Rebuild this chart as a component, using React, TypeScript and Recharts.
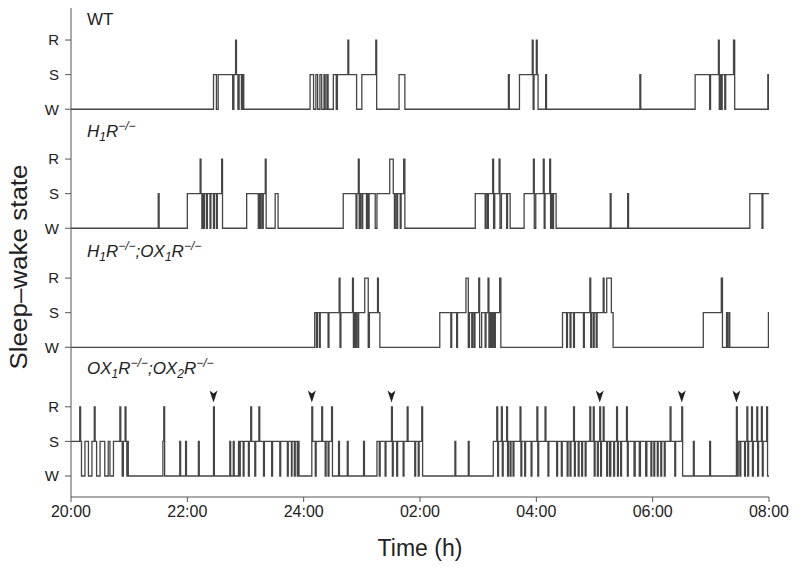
import React from "react";
import { ComposedChart, Line, Scatter, XAxis, YAxis } from "recharts";

const W = 0;
const S = 1;
const R = 2;

// hypnogram transitions: [hours after 20:00, state]
const wtEpochs: [number, number][] = [
  [0, W], [2.45, S], [2.5, W], [2.53, S], [2.78, W], [2.8, S], [2.83, R], [2.845, S],
  [2.87, W], [2.89, S], [2.93, W], [2.95, S], [2.97, W],
  [4.11, S], [4.17, W], [4.21, S], [4.24, W], [4.28, S], [4.31, W], [4.35, S], [4.37, W],
  [4.4, S], [4.42, W], [4.51, S], [4.56, W],
  [4.58, S], [4.76, R], [4.775, S], [4.91, W], [5.0, S], [5.24, R], [5.255, W],
  [5.64, S], [5.74, W],
  [7.52, S], [7.535, W], [7.71, S], [7.93, R], [7.945, W], [7.96, S], [8.0, R], [8.015, S],
  [8.03, W], [8.16, S], [8.175, W], [9.78, S], [9.795, W],
  [10.73, S], [10.98, W], [10.995, S], [11.13, R], [11.145, W], [11.16, S], [11.18, W],
  [11.195, S], [11.24, W], [11.255, S], [11.39, R], [11.41, W], [11.98, S], [11.995, W],
];

const h1Epochs: [number, number][] = [
  [0, W], [1.5, S], [1.515, W],
  [2.0, S], [2.22, R], [2.235, S], [2.25, W], [2.265, S], [2.28, W], [2.295, S], [2.33, W],
  [2.345, S], [2.39, W], [2.405, S], [2.45, W], [2.465, S], [2.5, W], [2.515, S], [2.59, R],
  [2.605, W],
  [3.02, S], [3.22, W], [3.235, S], [3.25, W], [3.265, S], [3.29, W], [3.305, S], [3.34, R],
  [3.355, W], [3.51, S], [3.56, W],
  [4.68, S], [4.9, W], [4.915, S], [4.94, R], [4.955, W], [4.975, S], [5.0, W], [5.015, S],
  [5.08, W], [5.095, S], [5.11, W], [5.125, S], [5.23, W], [5.26, S], [5.48, R], [5.54, S],
  [5.56, W], [5.575, S], [5.6, W], [5.615, S], [5.66, W], [5.675, S], [5.72, R], [5.74, W],
  [6.95, S], [7.12, W], [7.135, S], [7.16, W], [7.175, S], [7.25, R], [7.265, W], [7.285, S],
  [7.36, R], [7.375, W], [7.4, S], [7.49, W], [7.505, S], [7.55, W],
  [7.79, S], [7.95, R], [7.965, W], [7.99, S], [8.12, R], [8.135, W], [8.15, S], [8.23, R],
  [8.245, W], [8.26, S], [8.28, W], [8.295, S], [8.34, W],
  [9.27, S], [9.285, W], [9.57, S], [9.585, W],
  [11.67, S], [11.88, W], [11.895, S],
];

const h1ox1Epochs: [number, number][] = [
  [0, W],
  [4.19, S], [4.22, W], [4.235, S], [4.27, W], [4.285, S], [4.42, W], [4.435, S], [4.61, R],
  [4.625, W], [4.64, S], [4.84, R], [4.855, W], [4.87, S], [4.89, W], [4.905, S], [4.93, W],
  [4.945, S], [5.05, R], [5.11, W], [5.13, S], [5.27, R], [5.285, S], [5.31, W],
  [6.34, S], [6.53, W], [6.545, S], [6.63, W], [6.645, S], [6.79, R], [6.83, W], [6.85, S],
  [6.89, W], [6.905, S], [6.93, W], [6.945, S], [7.01, R], [7.025, W], [7.06, S], [7.12, W],
  [7.135, S], [7.17, R], [7.185, W], [7.2, S], [7.22, W], [7.235, S], [7.25, W], [7.265, S],
  [7.28, W], [7.295, S], [7.37, R], [7.39, W],
  [8.45, S], [8.52, W], [8.535, S], [8.58, W], [8.595, S], [8.64, W], [8.655, S], [8.81, W],
  [8.825, S], [8.92, R], [8.935, W], [8.95, S], [8.98, W], [8.995, S], [9.03, W], [9.045, S],
  [9.15, R], [9.165, S], [9.21, R], [9.29, S], [9.32, W],
  [10.87, S], [11.18, R], [11.2, W], [11.27, S], [11.285, W], [11.31, S], [11.325, W],
  [11.99, S],
];

const ox1ox2Epochs: [number, number][] = [
  [0, S], [0.15, R], [0.165, S], [0.18, W], [0.24, S], [0.3, W], [0.36, S], [0.4, R],
  [0.415, S], [0.44, W], [0.5, S], [0.58, W], [0.64, S], [0.67, W], [0.73, S], [0.84, R],
  [0.855, S], [0.88, W], [0.9, S], [0.93, R], [0.945, S], [0.96, W], [0.97, S], [0.985, W],
  [1.58, S], [1.595, R], [1.61, W], [1.87, S], [1.885, W], [1.97, S], [1.985, W],
  [2.19, S], [2.205, W], [2.45, R], [2.465, W], [2.73, S], [2.745, W], [2.79, S], [2.805, W],
  [2.88, S], [2.9, W], [2.91, S], [2.96, W], [2.975, S], [3.05, W], [3.065, S], [3.09, R],
  [3.105, S], [3.16, W], [3.175, S], [3.23, R], [3.245, S], [3.31, W], [3.325, S], [3.45, W],
  [3.465, S], [3.59, W], [3.605, S], [3.72, W], [3.735, S], [3.79, W], [3.8, S], [3.84, W],
  [3.855, S], [3.89, W], [3.905, S], [3.92, W],
  [4.14, R], [4.155, S], [4.2, W], [4.215, S], [4.31, R], [4.325, S], [4.37, W], [4.385, S],
  [4.42, W], [4.435, S], [4.48, R], [4.495, W],
  [4.6, S], [4.615, W], [4.75, S], [4.765, W], [5.03, S], [5.045, W],
  [5.26, S], [5.3, W], [5.315, S], [5.4, W], [5.415, S], [5.51, R], [5.525, W], [5.54, S],
  [5.6, W], [5.615, S], [5.71, W], [5.725, S], [5.78, R], [5.795, S], [5.91, W], [5.925, S],
  [5.97, W], [5.985, S], [6.03, R], [6.045, W],
  [6.6, S], [6.615, W], [6.83, S], [6.845, W],
  [7.26, S], [7.32, R], [7.335, W], [7.35, S], [7.4, R], [7.415, W], [7.43, S], [7.49, R],
  [7.505, W], [7.52, S], [7.55, W], [7.565, S], [7.6, W], [7.615, S], [7.72, R], [7.735, W],
  [7.75, S], [7.8, W], [7.815, S], [7.91, W], [7.925, S], [8.01, R], [8.025, W], [8.04, S],
  [8.15, R], [8.165, S], [8.2, W], [8.215, S], [8.35, W], [8.365, S], [8.43, W], [8.445, S],
  [8.53, W], [8.545, S], [8.58, W], [8.595, S], [8.64, R], [8.655, W], [8.67, S], [8.72, W],
  [8.735, S], [8.78, W], [8.795, S], [8.84, W], [8.855, S], [8.92, R], [8.935, S], [8.98, R],
  [8.995, W], [9.01, S], [9.05, W], [9.065, S], [9.09, R], [9.105, W], [9.12, S], [9.15, R],
  [9.165, S], [9.21, W], [9.225, S], [9.26, W], [9.28, S], [9.33, W], [9.345, S], [9.38, R],
  [9.395, W], [9.41, S], [9.45, W], [9.465, S], [9.55, R], [9.565, W], [9.58, S], [9.68, W],
  [9.7, S], [9.77, W], [9.79, S], [9.88, W], [9.9, S], [9.97, W], [9.985, S], [10.02, W],
  [10.035, S], [10.08, W], [10.095, S], [10.14, W], [10.155, S], [10.2, W], [10.215, S],
  [10.3, R], [10.315, S], [10.38, W], [10.395, S], [10.5, R], [10.515, W],
  [10.7, S], [10.715, W], [10.98, S], [10.995, W],
  [11.44, R], [11.455, W], [11.47, S], [11.5, W], [11.515, S], [11.58, W], [11.595, S],
  [11.62, R], [11.635, W], [11.65, S], [11.7, R], [11.715, W], [11.73, S], [11.79, R],
  [11.805, W], [11.82, S], [11.87, R], [11.885, W], [11.9, S], [11.96, R], [11.975, W],
];

// REM episodes marked with arrowheads in the double knockout
const arrowTimes = [2.45, 4.14, 5.51, 9.09, 10.5, 11.44];

const hourTicks = [0, 2, 4, 6, 8, 10, 12];
const hourLabels = ["20:00", "22:00", "24:00", "02:00", "04:00", "06:00", "08:00"];
const stateLabels = ["W", "S", "R"];

// vertical offset of each panel, in state units (bottom panel = 0)
const panelOffsets = [10.6, 7.16, 3.72, 0];
const panels = [wtEpochs, h1Epochs, h1ox1Epochs, ox1ox2Epochs];

const FONT = "'Liberation Sans', Arial, sans-serif";
const LINE = "#454545";

const toSeries = (epochs: [number, number][], offset: number) => {
  const pts = epochs.map(([t, s]) => ({ t, y: s + offset }));
  pts.push({ t: 12, y: epochs[epochs.length - 1][1] + offset });
  return pts;
};

const yTicks = panelOffsets.flatMap((o) => [o, o + 1, o + 2]).sort((a, b) => a - b);
const yTickLabel = (v: number) => {
  const base = [...panelOffsets].sort((a, b) => b - a).find((o) => v >= o - 0.01) ?? 0;
  return stateLabels[Math.round(v - base)];
};

const arrowData = arrowTimes.map((t) => ({ t, y: panelOffsets[3] + R + 0.3 }));

const ArrowHead = (props: any) => {
  const { cx, cy } = props;
  if (cx == null || cy == null) return null;
  return (
    <path
      d={`M${cx - 4},${cy - 6} L${cx},${cy - 3} L${cx + 4},${cy - 6} L${cx},${cy + 6} Z`}
      fill="#222"
    />
  );
};

// italic knockout label, e.g. H1R-/-; lead shifts the first glyph back to baseline
const KO = ({ gene, sub, lead = 0 }: { gene: string; sub: string; lead?: number }) => (
  <>
    <tspan dy={lead}>{gene}</tspan>
    <tspan fontSize={12} dy={4}>{sub}</tspan>
    <tspan dy={-4}>R</tspan>
    <tspan fontSize={12} dy={-7}>{"\u2212/\u2212"}</tspan>
  </>
);

export default function App() {
  return (
    <div style={{ position: "absolute", left: 0, top: 0, width: 800, height: 571, background: "#fff" }}>
      <ComposedChart width={800} height={571} margin={{ top: 8, right: 31, bottom: 0, left: 0 }}>
        <XAxis
          type="number"
          dataKey="t"
          domain={[0, 12]}
          ticks={hourTicks}
          tickFormatter={(v: number) => hourLabels[hourTicks.indexOf(v)]}
          height={74}
          tickSize={5}
          tickMargin={4}
          stroke="#555"
          tick={{ fill: "#222", fontSize: 16, fontFamily: FONT }}
          allowDataOverflow
        />
        <YAxis
          type="number"
          dataKey="y"
          domain={[-0.607, 13.526]}
          ticks={yTicks}
          interval={0}
          tickFormatter={yTickLabel}
          width={71}
          tickSize={6}
          tickMargin={6}
          stroke="#555"
          tick={{ fill: "#222", fontSize: 15, fontFamily: FONT }}
          allowDataOverflow
        />
        {panels.map((epochs, i) => (
          <Line
            key={i}
            data={toSeries(epochs, panelOffsets[i])}
            dataKey="y"
            type="stepAfter"
            stroke={LINE}
            strokeWidth={1.3}
            dot={false}
            activeDot={false}
            isAnimationActive={false}
          />
        ))}
        <Scatter data={arrowData} dataKey="y" shape={<ArrowHead />} isAnimationActive={false} />
      </ComposedChart>
      <svg
        width={800}
        height={571}
        style={{ position: "absolute", left: 0, top: 0, pointerEvents: "none" }}
        fontFamily={FONT}
        fill="#222"
      >
        <text x={87} y={25} fontSize={17}>WT</text>
        <text x={87} y={137} fontSize={17} fontStyle="italic">
          <KO gene="H" sub="1" />
        </text>
        <text x={87} y={257} fontSize={17} fontStyle="italic">
          <KO gene="H" sub="1" />
          <tspan dy={7}>;</tspan>
          <KO gene="OX" sub="1" />
        </text>
        <text x={87} y={374} fontSize={17} fontStyle="italic">
          <KO gene="OX" sub="1" />
          <tspan dy={7}>;</tspan>
          <KO gene="OX" sub="2" />
        </text>
        <text
          x={0}
          y={0}
          fontSize={23}
          textAnchor="middle"
          textLength={205}
          lengthAdjust="spacingAndGlyphs"
          transform="translate(27,267) rotate(-90)"
        >
          Sleep–wake state
        </text>
        <text x={420} y={556} fontSize={23} textAnchor="middle">
          Time (h)
        </text>
      </svg>
    </div>
  );
}
